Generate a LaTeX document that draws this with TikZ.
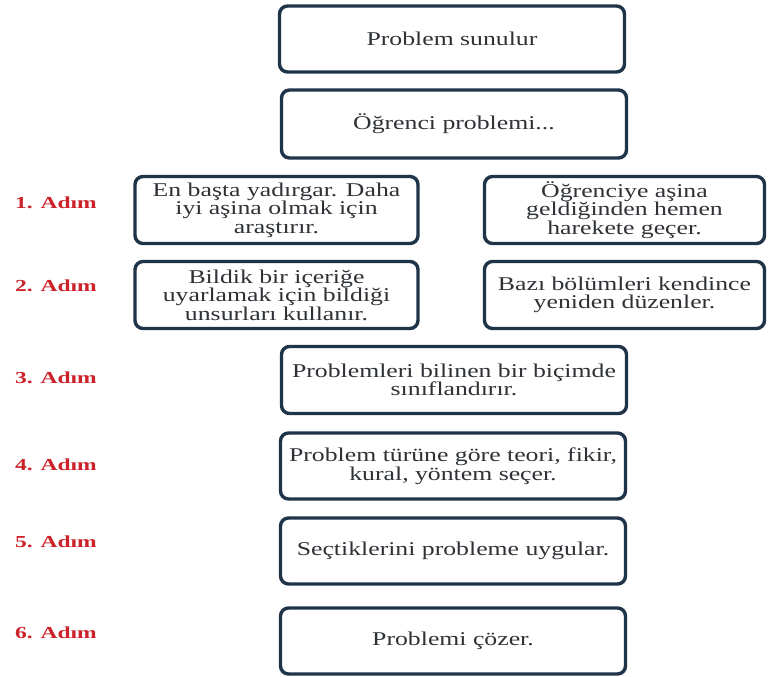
\documentclass[tikz,border=0pt]{standalone}
\usepackage{fontspec}
\setmainfont[FakeStretch=1.32]{Liberation Serif}
\newfontfamily\labfont[FakeStretch=1.4]{Liberation Serif}
\definecolor{boxline}{HTML}{1F3449}
\definecolor{boxtext}{HTML}{2E3236}
\definecolor{labred}{HTML}{CC2229}
\begin{document}
\begin{tikzpicture}[x=1pt,y=-1pt,
  box/.style={draw=boxline, line width=3.4pt, rounded corners=8pt, fill=white,
    text=boxtext, align=center, inner sep=0pt,
    font=\fontsize{19.5}{18.5}\selectfont},
  wide/.style={minimum width=345pt, minimum height=66pt},
  side/.style={minimum width=283pt, minimum height=67pt},
  steplab/.style={text=labred, font=\labfont\bfseries\fontsize{16.8}{17}\selectfont, inner sep=0pt}]
\useasboundingbox (0,0) rectangle (768,677);
\node[box, wide] (top) at (452,39) {Problem sunulur};
\node[box, wide, minimum height=68pt] (ogr) at (454,124) {Öğrenci problemi...};
\node[box, side] (l1) at (276.5,210) {En başta yadırgar. Daha\\iyi aşina olmak için\\araştırır.};
\node[box, side, minimum width=280pt] (r1) at (624.5,210) {Öğrenciye aşina\\geldiğinden hemen\\harekete geçer.};
\node[box, side] (l2) at (276.5,295) {Bildik bir içeriğe\\uyarlamak için bildiği\\unsurları kullanır.};
\node[box, side, minimum width=280pt] (r2) at (624.5,295) {Bazı bölümleri kendince\\yeniden düzenler.};
\node[box, wide, minimum height=67pt] (s3) at (454,380) {Problemleri bilinen bir biçimde\\sınıflandırır.};
\node[box, wide] (s4) at (453,466) {Problem türüne göre teori, fikir,\\kural, yöntem seçer.};
\node[box, wide] (s5) at (453,551) {Seçtiklerini probleme uygular.};
\node[box, wide] (s6) at (453,641) {Problemi çözer.};
\node[steplab] (a1) at (56,203) {1. Adım};
\node[steplab] (a2) at (56,286) {2. Adım};
\node[steplab] (a3) at (56,378) {3. Adım};
\node[steplab] (a4) at (56,465) {4. Adım};
\node[steplab] (a5) at (56,542) {5. Adım};
\node[steplab] (a6) at (56,633) {6. Adım};
\end{tikzpicture}
\end{document}
